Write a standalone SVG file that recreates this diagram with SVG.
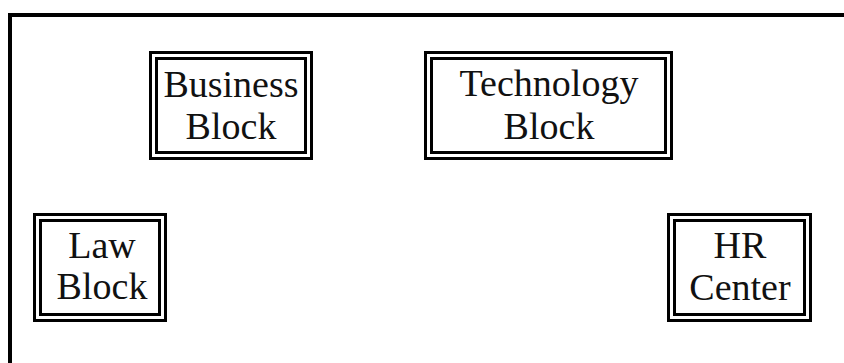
<svg xmlns="http://www.w3.org/2000/svg" width="844" height="363" viewBox="0 0 844 363">
<style>
.o{fill:none;stroke:#000;stroke-width:3}
.i{fill:none;stroke:#000;stroke-width:3}
.t{font-family:"Liberation Serif","Times New Roman",serif;font-size:38px;fill:#111;text-anchor:middle}
</style>
<rect width="844" height="363" fill="#fff"/>
<rect x="10" y="15" width="850" height="370" fill="none" stroke="#000" stroke-width="4"/>
<g id="connectors"></g>
<g id="business">
<rect class="o" x="150.5" y="52.5" width="161" height="106"/>
<rect class="i" x="156.5" y="58.5" width="149" height="94"/>
<text class="t" x="231" y="97">Business</text>
<text class="t" x="231" y="139">Block</text>
</g>
<g id="technology">
<rect class="o" x="425.5" y="52.5" width="246" height="106"/>
<rect class="i" x="431.5" y="58.5" width="234" height="94"/>
<text class="t" x="549" y="96">Technology</text>
<text class="t" x="549" y="139">Block</text>
</g>
<g id="law">
<rect class="o" x="34.5" y="214.5" width="131" height="106"/>
<rect class="i" x="40.5" y="220.5" width="119" height="94"/>
<text class="t" x="102" y="258">Law</text>
<text class="t" x="102" y="299">Block</text>
</g>
<g id="hr">
<rect class="o" x="668.5" y="214.5" width="142" height="106"/>
<rect class="i" x="674.5" y="220.5" width="130" height="94"/>
<text class="t" x="740" y="258">HR</text>
<text class="t" x="740" y="300">Center</text>
</g>
</svg>
